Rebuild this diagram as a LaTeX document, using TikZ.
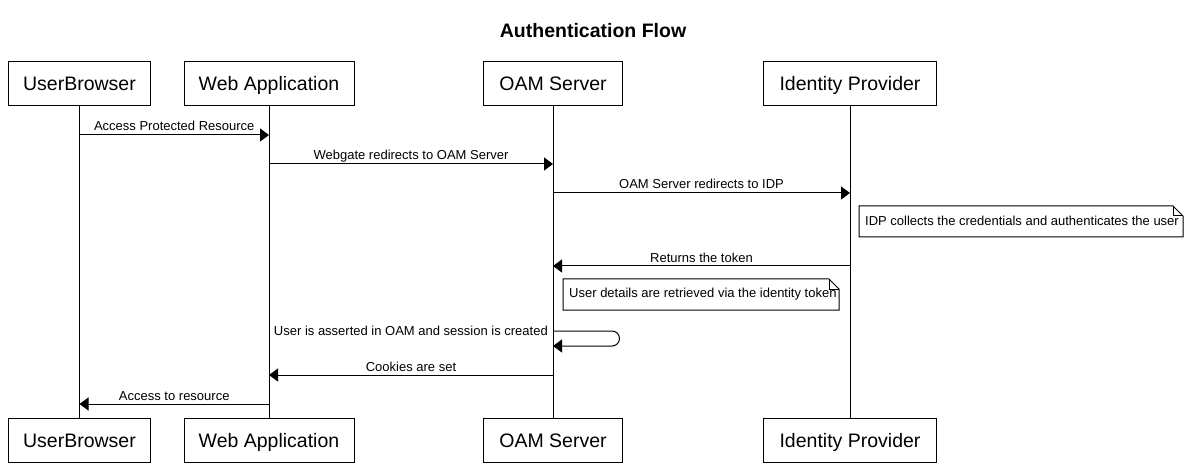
\documentclass[tikz,border=0pt]{standalone}
\usepackage{fontspec}
\setmainfont{Liberation Sans}
\usetikzlibrary{arrows.meta}
\begin{document}
\begin{tikzpicture}[x=1pt,y=-1pt,
  actor/.style={draw=black, line width=1pt, fill=white, minimum height=44pt, inner sep=0pt,
    font=\fontsize{19.5}{22}\selectfont, text height=14pt, text depth=0pt},
  life/.style={line width=1pt},
  msg/.style={line width=1pt, -{Triangle[length=9pt,width=13pt]}},
  lbl/.style={font=\fontsize{13}{15}\selectfont, anchor=base, yshift=4pt, inner sep=0pt},
  notebox/.style={draw=black, line width=1pt, fill=white},
  notetext/.style={font=\fontsize{13}{15}\selectfont, anchor=base west, inner sep=0pt}]
\useasboundingbox (0,0) rectangle (1188,470);
\node[font=\bfseries\fontsize{19.5}{22}\selectfont, anchor=base, inner sep=0pt] (title) at (593,38) {Authentication Flow};
% top actors
\node[actor, minimum width=142pt] (ub) at (79.5,84) {UserBrowser};
\node[actor, minimum width=170pt] (wa) at (269,84) {Web Application};
\node[actor, minimum width=139pt] (oam) at (553,84) {OAM Server};
\node[actor, minimum width=173pt] (idp) at (850,84) {Identity Provider};
% bottom actors
\node[actor, minimum width=142pt] (ub2) at (79.5,440) {UserBrowser};
\node[actor, minimum width=170pt] (wa2) at (269,440) {Web Application};
\node[actor, minimum width=139pt] (oam2) at (553,440) {OAM Server};
\node[actor, minimum width=173pt] (idp2) at (850,440) {Identity Provider};
% lifelines
\draw[life] (ub.south) -- (ub2.north);
\draw[life] (wa.south) -- (wa2.north);
\draw[life] (oam.south) -- (oam2.north);
\draw[life] (idp.south) -- (idp2.north);
% messages
\draw[msg] (ub |- 0,135) -- node[lbl] (m1) {Access Protected Resource} (wa |- 0,135);
\draw[msg] (wa |- 0,164) -- node[lbl] (m2) {Webgate redirects to OAM Server} (oam |- 0,164);
\draw[msg] (oam |- 0,193) -- node[lbl] (m3) {OAM Server redirects to IDP} (idp |- 0,193);
% note 1
\draw[notebox] (859,206) -- (1173,206) -- (1183,216) -- (1183,237) -- (859,237) -- cycle;
\draw[line width=1pt] (1173,206) -- (1173,216) -- (1183,216);
\node[notetext] (n1) at (865,225.5) {IDP collects the credentials and authenticates the user};
\draw[msg] (idp |- 0,266) -- node[lbl] (m4) {Returns the token} (oam |- 0,266);
% note 2
\draw[notebox] (563,279) -- (829,279) -- (839,289) -- (839,310) -- (563,310) -- cycle;
\draw[line width=1pt] (829,279) -- (829,289) -- (839,289);
\node[notetext] (n2) at (569,298) {User details are retrieved via the identity token};
% self loop
\coordinate (sl1) at (612,331);
\coordinate (sl2) at (612,346);
\draw[msg] (oam |- 0,331) -- (sl1) arc(-90:90:7.5) -- (oam |- 0,346);
\node[font=\fontsize{13}{15}\selectfont, anchor=base east, inner sep=0pt] (m5) at (548,335) {User is asserted in OAM and session is created};
\draw[msg] (oam |- 0,375) -- node[lbl] (m6) {Cookies are set} (wa |- 0,375);
\draw[msg] (wa |- 0,404) -- node[lbl] (m7) {Access to resource} (ub |- 0,404);
\end{tikzpicture}
\end{document}
